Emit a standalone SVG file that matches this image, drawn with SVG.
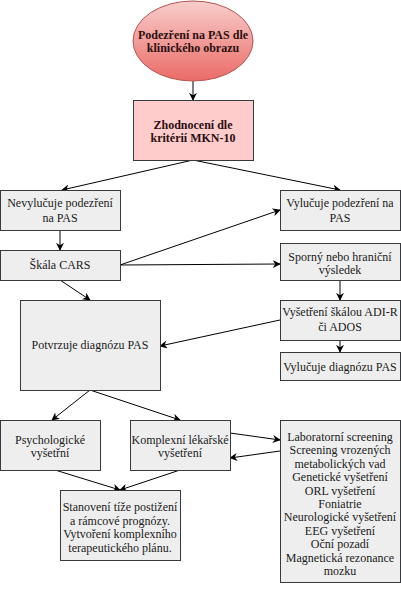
<svg xmlns="http://www.w3.org/2000/svg" width="401" height="591" viewBox="0 0 401 591">
<defs>
<linearGradient id="g" x1="0" y1="0" x2="0" y2="1">
<stop offset="0" stop-color="#f8cecc"/>
<stop offset="1" stop-color="#ea6b66"/>
</linearGradient>
<marker id="a" viewBox="0 0 10 10" refX="9" refY="5" markerWidth="8" markerHeight="8" markerUnits="userSpaceOnUse" orient="auto">
<path d="M0,0 L10,5 L0,10 L3,5 Z" fill="#000"/>
</marker>
<style>
.b{fill:#eeeeee;stroke:#36393d;stroke-width:1}
.t{font-family:"Liberation Serif","Times New Roman",serif;font-size:12px;fill:#1a1a1a;text-anchor:middle}
.bt{font-weight:bold;fill:#2a1010}
.c{fill:none;stroke:#000;stroke-width:1;marker-end:url(#a)}
</style>
</defs>
<rect width="401" height="591" fill="#fff"/>
<g id="connectors">
<path class="c" d="M193,81 L193,100"/>
<path class="c" d="M193,160 L62,190"/>
<path class="c" d="M193,160 L340,190"/>
<path class="c" d="M60,230 L60,250"/>
<path class="c" d="M120,265 L280,210"/>
<path class="c" d="M120,265 L280,264"/>
<path class="c" d="M340,280 L340,300"/>
<path class="c" d="M340,340 L340,352"/>
<path class="c" d="M280,320 L160,346"/>
<path class="c" d="M60,280 L90,300"/>
<path class="c" d="M90,390 L52,420"/>
<path class="c" d="M90,390 L180,420"/>
<path class="c" d="M230,433 L280,440"/>
<path class="c" d="M280,451 L230,458"/>
<path class="c" d="M55,470 L120,490"/>
<path class="c" d="M180,470 L120,490"/>
</g>
<g id="n1">
<ellipse cx="193" cy="41" rx="60" ry="40" fill="url(#g)" stroke="#b85450"/>
<text class="t bt" x="193" y="39">Podezření na PAS dle</text>
<text class="t bt" x="193" y="52">klinického obrazu</text>
</g>
<g id="n2">
<rect x="133.5" y="100.5" width="120" height="60" fill="#ffcccc" stroke="#36393d"/>
<text class="t bt" x="193" y="129">Zhodnocení dle</text>
<text class="t bt" x="193" y="142">kritérií MKN-10</text>
</g>
<g id="n3">
<rect class="b" x="0.5" y="190.5" width="120" height="40"/>
<text class="t" x="60" y="207">Nevylučuje podezření</text>
<text class="t" x="60" y="222">na PAS</text>
</g>
<g id="n4">
<rect class="b" x="280.5" y="190.5" width="120" height="40"/>
<text class="t" x="340" y="207">Vylučuje podezření na</text>
<text class="t" x="340" y="222">PAS</text>
</g>
<g id="n5">
<rect class="b" x="0.5" y="250.5" width="120" height="30"/>
<text class="t" x="60" y="269">Škála CARS</text>
</g>
<g id="n6">
<rect class="b" x="280.5" y="243.5" width="120" height="37"/>
<text class="t" x="340" y="261">Sporný nebo hraniční</text>
<text class="t" x="340" y="274">výsledek</text>
</g>
<g id="n7">
<rect class="b" x="280.5" y="300.5" width="120" height="40"/>
<text class="t" x="340" y="316">Vyšetření škálou ADI-R</text>
<text class="t" x="340" y="331">či ADOS</text>
</g>
<g id="n8">
<rect class="b" x="280.5" y="352.5" width="120" height="28"/>
<text class="t" x="340" y="371">Vylučuje diagnózu PAS</text>
</g>
<g id="n9">
<rect class="b" x="20.5" y="300.5" width="140" height="90"/>
<text class="t" x="90" y="349">Potvrzuje diagnózu PAS</text>
</g>
<g id="n10">
<rect class="b" x="0.5" y="420.5" width="100" height="50"/>
<text class="t" x="50" y="444">Psychologické</text>
<text class="t" x="50" y="457">vyšetřní</text>
</g>
<g id="n11">
<rect class="b" x="130.5" y="420.5" width="100" height="50"/>
<text class="t" x="180" y="444">Komplexní lékařské</text>
<text class="t" x="180" y="457">vyšetření</text>
</g>
<g id="n12">
<rect class="b" x="280.5" y="420.5" width="120" height="162"/>
<text class="t" x="340" y="441">Laboratorní screening</text>
<text class="t" x="340" y="454.4">Screening vrozených</text>
<text class="t" x="340" y="467.8">metabolických vad</text>
<text class="t" x="340" y="481.2">Genetické vyšetření</text>
<text class="t" x="340" y="494.6">ORL vyšetření</text>
<text class="t" x="340" y="508">Foniatrie</text>
<text class="t" x="340" y="521.4">Neurologické vyšetření</text>
<text class="t" x="340" y="534.8">EEG vyšetření</text>
<text class="t" x="340" y="548.2">Oční pozadí</text>
<text class="t" x="340" y="561.6">Magnetická rezonance</text>
<text class="t" x="340" y="575">mozku</text>
</g>
<g id="n13">
<rect class="b" x="60.5" y="490.5" width="120" height="70"/>
<text class="t" x="120" y="511">Stanovení tíže postižení</text>
<text class="t" x="120" y="524.5">a rámcové prognózy.</text>
<text class="t" x="120" y="538">Vytvoření komplexního</text>
<text class="t" x="120" y="551.5">terapeutického plánu.</text>
</g>
</svg>
